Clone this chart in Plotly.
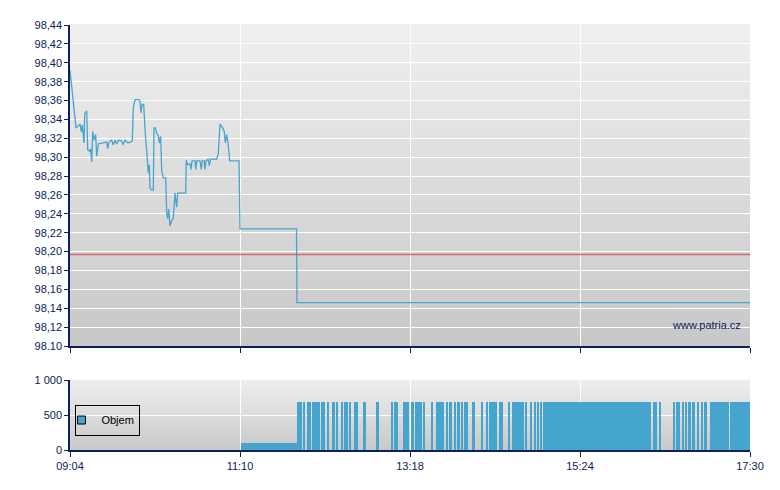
import pandas as pd
import plotly.graph_objects as go
from plotly.subplots import make_subplots

day = "2012-05-14 "

# price (time, value)
price_time = ["09:04:00", "09:05:29", "09:08:28", "09:11:26", "09:12:25", "09:13:09", "09:14:25", "09:14:56",
              "09:16:26", "09:17:10", "09:18:53", "09:19:24", "09:20:09", "09:20:53", "09:22:05", "09:23:07",
              "09:23:52", "09:25:04", "09:28:47", "09:31:19", "09:32:03", "09:33:01", "09:35:02", "09:36:00",
              "09:37:29", "09:38:36", "09:39:56", "09:42:28", "09:43:26", "09:44:56", "09:47:10", "09:50:22",
              "09:51:06", "09:52:22", "09:55:20", "09:56:05", "09:56:50", "09:57:35", "09:58:50", "09:59:49",
              "10:01:49", "10:02:16", "10:03:01", "10:03:32", "10:04:47", "10:05:59", "10:06:30", "10:07:28",
              "10:08:31", "10:09:42", "10:10:27", "10:11:29", "10:12:14", "10:13:25", "10:15:13", "10:15:57",
              "10:16:42", "10:17:26", "10:18:25", "10:19:41", "10:20:52", "10:22:08", "10:23:24", "10:24:08",
              "10:30:05", "10:30:32", "10:31:35", "10:33:17", "10:34:02", "10:34:47", "10:37:01", "10:37:32",
              "10:38:17", "10:40:44", "10:41:42", "10:42:26", "10:43:56", "10:44:27", "10:45:12", "10:46:55",
              "10:47:39", "10:48:42", "10:53:10", "10:54:21", "10:55:37", "10:56:35", "10:57:38", "10:58:49",
              "10:59:34", "11:00:36", "11:01:34", "11:02:50", "11:09:46", "11:10:30", "11:52:32", "11:52:55",
              "17:30:00"]
price = [98.392, 98.374, 98.331, 98.335, 98.327, 98.334, 98.315, 98.346,
         98.349, 98.308, 98.306, 98.309, 98.295, 98.327, 98.318, 98.324,
         98.301, 98.314, 98.315, 98.316, 98.309, 98.316, 98.318, 98.313,
         98.318, 98.314, 98.318, 98.317, 98.313, 98.318, 98.315, 98.317,
         98.352, 98.361, 98.361, 98.359, 98.347, 98.356, 98.356, 98.329,
         98.293, 98.283, 98.292, 98.267, 98.265, 98.265, 98.331, 98.331,
         98.325, 98.323, 98.315, 98.322, 98.286, 98.278, 98.278, 98.241,
         98.235, 98.245, 98.227, 98.233, 98.235, 98.262, 98.247, 98.262,
         98.262, 98.297, 98.292, 98.293, 98.287, 98.296, 98.296, 98.287,
         98.296, 98.296, 98.287, 98.296, 98.296, 98.287, 98.296, 98.298,
         98.291, 98.298, 98.298, 98.304, 98.335, 98.333, 98.331, 98.327,
         98.315, 98.324, 98.315, 98.296, 98.296, 98.224, 98.224, 98.146,
         98.146]

prev_close = 98.197

# volume blocks: start, end, volume
vol_start = ["11:11", "11:53", "11:58", "12:00", "12:04", "12:11", "12:13", "12:15", "12:19", "12:22",
             "12:26", "12:28", "12:30", "12:32", "12:35", "12:42", "12:52", "13:03", "13:05", "13:12",
             "13:18", "13:21", "13:27", "13:33", "13:36", "13:44", "13:46", "13:50", "13:52", "13:55",
             "13:57", "14:03", "14:10", "14:14", "14:16", "14:23", "14:30", "14:33", "14:43", "14:47",
             "14:50", "14:52", "14:54", "14:56", "16:18", "16:20", "16:22", "16:33", "16:35", "16:37",
             "16:40", "16:42", "16:44", "16:47", "16:51", "16:54", "16:56", "17:00", "17:15"]
vol_end = ["11:53", "11:57", "11:59", "12:03", "12:10", "12:12", "12:14", "12:17", "12:21", "12:23",
           "12:27", "12:29", "12:31", "12:33", "12:38", "12:44", "12:54", "13:04", "13:08", "13:16",
           "13:20", "13:26", "13:28", "13:34", "13:42", "13:45", "13:48", "13:51", "13:54", "13:56",
           "14:00", "14:05", "14:11", "14:15", "14:22", "14:26", "14:31", "14:42", "14:44", "14:48",
           "14:51", "14:53", "14:55", "16:16", "16:19", "16:21", "16:24", "16:34", "16:36", "16:38",
           "16:41", "16:43", "16:46", "16:49", "16:52", "16:55", "16:58", "17:14", "17:30"]
vol = [100] + [690] * 58

tick_vals = ["09:04:00", "11:10:30", "13:17:00", "15:23:30", "17:30:00"]
tick_text = ["09:04", "11:10", "13:18", "15:24", "17:30"]
y_ticks = [98.10, 98.12, 98.14, 98.16, 98.18, 98.20, 98.22, 98.24, 98.26, 98.28,
           98.30, 98.32, 98.34, 98.36, 98.38, 98.40, 98.42, 98.44]
y_text = ["98.10"] + [f"{v:.2f}".replace(".", ",") for v in y_ticks[1:]]

navy = "#0b2158"
blue = "#46a5ce"

t_price = pd.to_datetime([day + t for t in price_time])
v0 = pd.to_datetime([day + t for t in vol_start])
v1 = pd.to_datetime([day + t for t in vol_end])
widths = [(b - a).total_seconds() * 1000 for a, b in zip(v0, v1)]
x_range = [day + "09:04:00", day + "17:30:00"]

fig = make_subplots(rows=2, cols=1, row_heights=[0.82, 0.18], vertical_spacing=0.08)
fig.update_yaxes(domain=[0.2447, 1], row=1, col=1)
fig.update_yaxes(domain=[0, 0.1647], row=2, col=1)

fig.add_trace(go.Scatter(x=t_price, y=price, mode="lines", line=dict(color=blue, width=1.3),
                         showlegend=False, hoverinfo="skip"), row=1, col=1)
fig.add_trace(go.Scatter(x=x_range, y=[prev_close, prev_close], mode="lines",
                         line=dict(color="rgba(205,70,80,0.75)", width=1.5),
                         showlegend=False, hoverinfo="skip"), row=1, col=1)
fig.add_trace(go.Bar(x=v0, y=vol, width=widths, offset=0, name="Objem", showlegend=False,
                     marker=dict(color=blue, line=dict(width=0))), row=2, col=1)
# legend entry only (small bordered square like the original)
fig.add_trace(go.Scatter(x=[None], y=[None], mode="markers", name="Objem",
                         marker=dict(symbol="square", size=8, color=blue,
                                     line=dict(color="black", width=1))), row=2, col=1)

# grey gradient backgrounds
n = 40
for ax in ["", "2"]:
    for i in range(n):
        c = int(200 + 40 * (i + 0.5) / n)
        fig.add_shape(type="rect", xref="x%s domain" % ax, yref="y%s domain" % ax,
                      x0=0, x1=1, y0=i / n, y1=(i + 1) / n + 0.002, layer="below",
                      line=dict(width=0), fillcolor="rgb(%d,%d,%d)" % (c, c, c))

font = dict(family="Liberation Sans", size=11, color=navy)
for r in [1, 2]:
    fig.update_xaxes(type="date", range=x_range, tickvals=[day + t for t in tick_vals],
                     ticktext=tick_text, showgrid=True, gridcolor="white", gridwidth=1,
                     showline=True, linecolor=navy, linewidth=1.5, ticks="outside",
                     tickcolor=navy, ticklen=5, tickfont=font, zeroline=False,
                     automargin=False, row=r, col=1)
fig.update_xaxes(showticklabels=False, row=1, col=1)
fig.update_yaxes(range=[98.10, 98.44], tickvals=y_ticks, ticktext=y_text, showgrid=True,
                 gridcolor="white", gridwidth=1, showline=True, linecolor=navy, linewidth=1.5,
                 ticks="outside", tickcolor=navy, ticklen=4, tickfont=font, zeroline=False,
                 automargin=False, row=1, col=1)
fig.update_yaxes(range=[0, 1000], tickvals=[0, 500, 1000], ticktext=["0", "500", "1 000"],
                 showgrid=True, gridcolor="white", gridwidth=1, showline=True, linecolor=navy,
                 linewidth=1.5, ticks="outside", tickcolor=navy, ticklen=4, tickfont=font,
                 zeroline=False, automargin=False, row=2, col=1)

fig.add_annotation(text="www.patria.cz", xref="x domain", yref="y domain", x=0.99, y=0.04,
                   xanchor="right", yanchor="bottom", showarrow=False,
                   font=dict(family="Liberation Sans", size=11, color=navy))

# page body adds 8px offset, so margins are shifted to compensate
fig.update_layout(
    width=780, height=490, margin=dict(l=62, r=38, t=17, b=48),
    paper_bgcolor="white", plot_bgcolor="#d8d8d8", bargap=0,
    showlegend=True,
    legend=dict(x=0.008, y=0.107, xanchor="left", yanchor="top", bgcolor="rgba(0,0,0,0)",
                bordercolor="black", borderwidth=1,
                font=dict(family="Liberation Sans", size=11, color="black"),
                itemwidth=30, tracegroupgap=0, indentation=-15),
)

fig.write_html("out.html")
